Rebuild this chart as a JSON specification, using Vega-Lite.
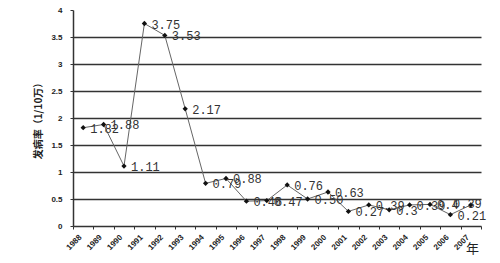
{
  "$schema": "https://vega.github.io/schema/vega-lite/v6.json",
  "width": 408,
  "height": 216,
  "autosize": {"type": "none"},
  "padding": {"left": 73, "top": 10, "right": 19, "bottom": 37},
  "background": "white",
  "config": {"view": {"stroke": null}},
  "data": {
    "values": [
      {"year": "1988", "rate": 1.82, "label": "1.82"},
      {"year": "1989", "rate": 1.88, "label": "1.88"},
      {"year": "1990", "rate": 1.11, "label": "1.11"},
      {"year": "1991", "rate": 3.75, "label": "3.75"},
      {"year": "1992", "rate": 3.53, "label": "3.53"},
      {"year": "1993", "rate": 2.17, "label": "2.17"},
      {"year": "1994", "rate": 0.79, "label": "0.79"},
      {"year": "1995", "rate": 0.88, "label": "0.88"},
      {"year": "1996", "rate": 0.46, "label": "0.46"},
      {"year": "1997", "rate": 0.47, "label": "0.47"},
      {"year": "1998", "rate": 0.76, "label": "0.76"},
      {"year": "1999", "rate": 0.50, "label": "0.50"},
      {"year": "2000", "rate": 0.63, "label": "0.63"},
      {"year": "2001", "rate": 0.27, "label": "0.27"},
      {"year": "2002", "rate": 0.39, "label": "0.39"},
      {"year": "2003", "rate": 0.30, "label": "0.3"},
      {"year": "2004", "rate": 0.39, "label": "0.39"},
      {"year": "2005", "rate": 0.40, "label": "0.4"},
      {"year": "2006", "rate": 0.21, "label": "0.21"},
      {"year": "2007", "rate": 0.39, "label": "0.39"}
    ]
  },
  "encoding": {
    "x": {
      "field": "year",
      "type": "ordinal",
      "scale": {"type": "band", "paddingInner": 0, "paddingOuter": 0},
      "axis": {
        "title": "年",
        "titleX": 399,
        "titleY": 22,
        "titleAngle": 0,
        "titleAlign": "center",
        "titleBaseline": "middle",
        "titleFont": "Noto Sans CJK SC",
        "titleFontSize": 13,
        "titleFontWeight": "normal",
        "titleColor": "#222",
        "labelAngle": -45,
        "labelAlign": "right",
        "labelBaseline": "middle",
        "labelFont": "Liberation Sans",
        "labelFontSize": 8,
        "labelFontWeight": "bold",
        "labelColor": "#222",
        "labelPadding": 7,
        "labelOffset": -3,
        "tickBand": "extent",
        "tickSize": 3,
        "tickColor": "#333",
        "domainColor": "#333",
        "domainWidth": 1.5,
        "grid": false
      }
    },
    "y": {
      "field": "rate",
      "type": "quantitative",
      "scale": {"domain": [0, 4], "nice": false},
      "axis": {
        "values": [0, 0.5, 1, 1.5, 2, 2.5, 3, 3.5, 4],
        "format": "~g",
        "title": "发病率（1/10万）",
        "titleFont": "Noto Sans CJK SC",
        "titleFontSize": 10,
        "titleFontWeight": "bold",
        "titleColor": "#222",
        "titleX": -35,
        "titleY": 108,
        "titleAngle": -90,
        "titleAlign": "center",
        "titleBaseline": "middle",
        "labelFont": "Liberation Sans",
        "labelFontSize": 8,
        "labelFontWeight": "bold",
        "labelColor": "#222",
        "labelPadding": 8,
        "tickSize": 3,
        "tickColor": "#333",
        "domainColor": "#333",
        "domainWidth": 1.5,
        "grid": true,
        "gridColor": "#333",
        "gridWidth": 1.6,
        "gridOpacity": {"condition": {"test": "datum.value >= 4 || datum.value <= 0", "value": 0}, "value": 1}
      }
    }
  },
  "layer": [
    {"mark": {"type": "line", "color": "#666", "strokeWidth": 1}},
    {"mark": {"type": "point", "shape": "diamond", "filled": true, "color": "#111", "size": 28, "opacity": 1}},
    {
      "transform": [{"filter": "datum.year != '2007'"}],
      "mark": {"type": "text", "align": "left", "baseline": "middle", "dx": 7, "dy": 1, "font": "Liberation Mono", "fontSize": 12, "color": "#333"},
      "encoding": {"text": {"field": "label"}}
    },
    {
      "transform": [{"filter": "datum.year == '2007'"}],
      "mark": {"type": "text", "align": "right", "baseline": "middle", "dx": 11, "dy": -1, "font": "Liberation Mono", "fontSize": 12, "color": "#333"},
      "encoding": {"text": {"field": "label"}}
    }
  ]
}
